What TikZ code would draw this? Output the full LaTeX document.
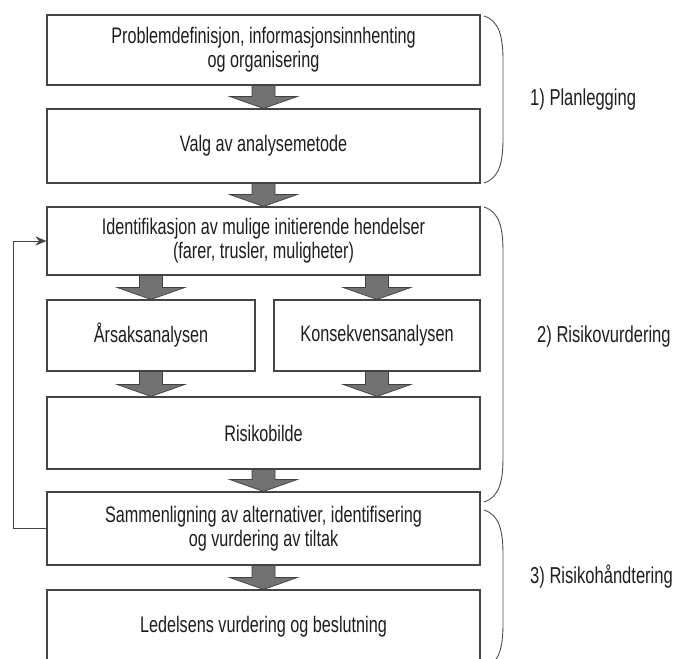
\documentclass[tikz,border=0pt]{standalone}
\usepackage{fontspec}
\setmainfont[FakeStretch=0.72]{Liberation Sans}
\usetikzlibrary{calc,arrows.meta}
\definecolor{ink}{HTML}{1E1E1E}
\definecolor{edge}{HTML}{444444}
\definecolor{arrowfill}{HTML}{727272}
\newcommand{\fatarr}[2]{%
  \draw[fatarrow] ($(#1)+(-11.5,0)$) -- ($(#2)+(-11.5,-12)$) -- ($(#2)+(-34,-12)$) -- (#2)
    -- ($(#2)+(34,-12)$) -- ($(#2)+(11.5,-12)$) -- ($(#1)+(11.5,0)$) -- cycle;}
\newcommand{\phasebrace}[3]{% x, top, bottom
  \draw[bracecurve] (#1,#2) .. controls (#1+16,#2+5) and (#1+19,#2+22) .. (#1+19,#2+45)
    -- (#1+19,#3-45) .. controls (#1+19,#3-22) and (#1+16,#3-5) .. (#1,#3);}
\tikzset{
  box/.style={draw=edge, line width=1.1pt, fill=white, rectangle, inner sep=0pt,
    align=center, text=ink, font=\fontsize{22.5}{24}\selectfont},
  fatarrow/.style={fill=arrowfill, draw=black!75, line width=0.7pt, line join=miter},
  fb/.style={draw=edge, line width=0.9pt, -{Stealth[length=11pt,width=9pt]}},
  bracecurve/.style={draw=black!70, line width=0.9pt},
  phase/.style={anchor=west, text=ink, font=\fontsize{23}{24}\selectfont, inner sep=0pt}
}
\begin{document}
\begin{tikzpicture}[x=1pt,y=-1pt]
\useasboundingbox (0,0) rectangle (681,659);
\begin{scope}
\clip (0,0) rectangle (681,659);
\node[box, minimum width=433, minimum height=70] (b1) at (263.5,50) {Problemdefinisjon, informasjonsinnhenting\\og organisering};
\node[box, minimum width=433, minimum height=74] (b2) at (263.5,146) {Valg av analysemetode};
\node[box, minimum width=433, minimum height=68] (b3) at (263.5,241) {Identifikasjon av mulige initierende hendelser\\(farer, trusler, muligheter)};
\node[box, minimum width=208, minimum height=71] (b4) at (151,335.5) {Årsaksanalysen};
\node[box, minimum width=206, minimum height=71] (b5) at (377,335.5) {Konsekvensanalysen};
\node[box, minimum width=433, minimum height=72] (b6) at (263.5,433) {Risikobilde};
\node[box, minimum width=433, minimum height=73] (b7) at (263.5,528.5) {Sammenligning av alternativer, identifisering\\og vurdering av tiltak};
\node[box, minimum width=433, minimum height=73] (b8) at (263.5,626.5) {Ledelsens vurdering og beslutning};

\fatarr{b1.south}{b2.north}
\fatarr{b2.south}{b3.north}
\coordinate (a4) at (b4.north |- b3.south);
\coordinate (a5) at (b5.north |- b3.south);
\fatarr{a4}{b4.north}
\fatarr{a5}{b5.north}
\coordinate (c4) at (b4.south |- b6.north);
\coordinate (c5) at (b5.south |- b6.north);
\fatarr{b4.south}{c4}
\fatarr{b5.south}{c5}
\fatarr{b6.south}{b7.north}
\fatarr{b7.south}{b8.north}

\draw[fb] (b7.west) -- ++(-33,0) |- (b3.west);

\phasebrace{484}{16}{183}
\phasebrace{484}{207}{502}
\phasebrace{484}{510}{668}

\node[phase] (p1) at (530,100) {1) Planlegging};
\node[phase] (p2) at (537,337) {2) Risikovurdering};
\node[phase] (p3) at (530,577) {3) Risikohåndtering};
\end{scope}
\end{tikzpicture}
\end{document}
